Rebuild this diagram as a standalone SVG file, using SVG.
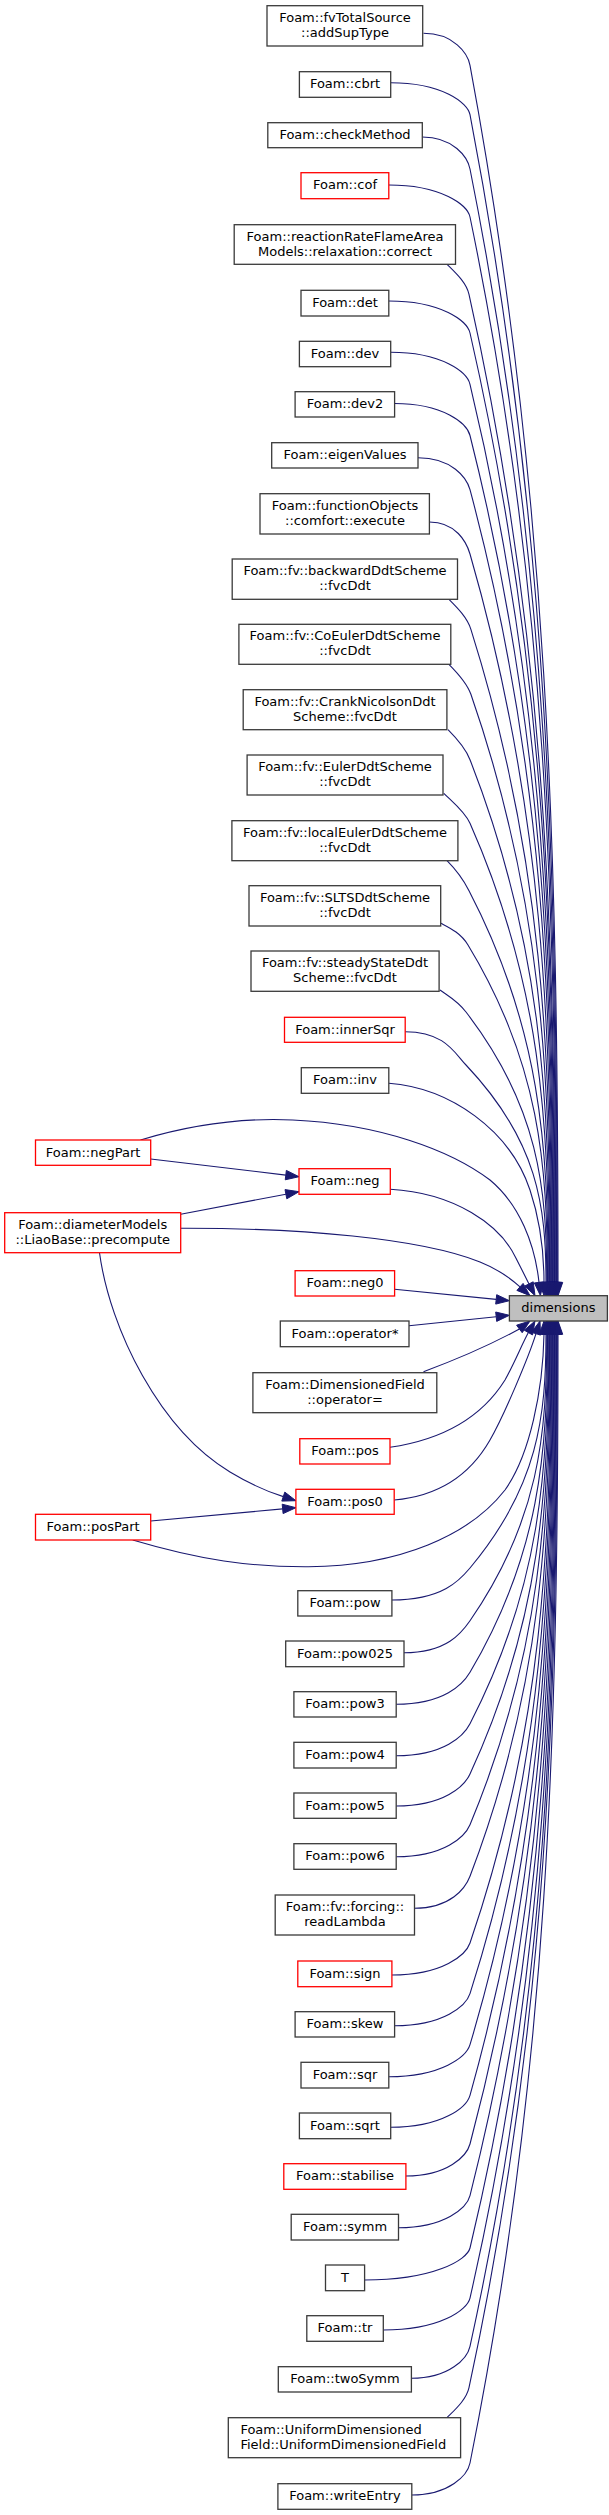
<svg xmlns="http://www.w3.org/2000/svg" width="609" height="2515" viewBox="0 0 609 2515">
<style>
.n rect{fill:#fff;stroke:#3a3a3a;stroke-width:1.3}
.r rect{stroke:#f00}
.d rect{fill:#bfbfbf}
text{font-family:"DejaVu Sans",sans-serif;font-size:13px;fill:#000;text-anchor:middle}
text.l{text-anchor:start}
#edges path{fill:none;stroke:#191970;stroke-width:1.1}
#edges polygon{fill:#191970;stroke:#191970;stroke-width:1}
</style>
<rect width="609" height="2515" fill="#fff"/>
<g id="edges">
<path d="M423.5,33.3 C453.7,33.3 467.8,53.3 470,65.3 C549.2,491.3 558,856.4 558,1282.4"/><polygon points="553.3,1282.4 558,1295.7 562.7,1282.4"/>
<path d="M390.7,82.7 C442.2,82.7 467.7,102.7 470,114.7 C548.6,523.4 557.3,873.7 557.3,1282.4"/><polygon points="552.6,1282.4 557.3,1295.7 562,1282.4"/>
<path d="M422.3,137 C453.3,137 467.6,157 470,169 C547.9,558.7 556.6,892.7 556.6,1282.4"/><polygon points="551.9,1282.4 556.6,1295.7 561.3,1282.4"/>
<path d="M388.8,185 C441.6,185 467.5,205 470,217 C547.3,589.9 555.9,909.5 555.9,1282.4"/><polygon points="551.2,1282.4 555.9,1295.7 560.6,1282.4"/>
<path d="M447,264.3 C455,272.3 466.3,282.3 469,294.3 C546.6,640.1 555.2,936.6 555.2,1282.4"/><polygon points="550.5,1282.4 555.2,1295.7 559.9,1282.4"/>
<path d="M388.8,301 C441.6,301 467.3,321 470,333 C546.1,665.3 554.5,950.1 554.5,1282.4"/><polygon points="549.8,1282.4 554.5,1295.7 559.2,1282.4"/>
<path d="M390.7,352.3 C442.2,352.3 467.1,372.3 470,384.3 C545.4,698.6 553.8,968.1 553.8,1282.4"/><polygon points="549.1,1282.4 553.8,1295.7 558.5,1282.4"/>
<path d="M394.6,403.5 C443.6,403.5 467,423.5 470,435.5 C544.8,731.9 553.1,986 553.1,1282.4"/><polygon points="548.4,1282.4 553.1,1295.7 557.8,1282.4"/>
<path d="M418,457.7 C451.8,457.7 466.8,477.7 470,489.7 C544.2,767.1 552.4,1005 552.4,1282.4"/><polygon points="547.7,1282.4 552.4,1295.7 557.1,1282.4"/>
<path d="M429.4,522 C455.8,522 466.5,542 470,554 C543.5,808.9 551.7,1027.5 551.7,1282.4"/><polygon points="547,1282.4 551.7,1295.7 556.4,1282.4"/>
<path d="M448.9,599.3 C456.9,607.3 467.1,617.3 470.9,629.3 C543,857.9 551,1053.8 551,1282.4"/><polygon points="546.3,1282.4 551,1295.7 555.7,1282.4"/>
<path d="M448.9,664.3 C456.9,672.3 466.7,682.3 470.9,694.3 C542.4,900.1 550.3,1076.6 550.3,1282.4"/><polygon points="545.6,1282.4 550.3,1295.7 555,1282.4"/>
<path d="M448,729.7 C456,737.7 465.3,747.7 470,759.7 C541.6,942.6 549.6,1099.5 549.6,1282.4"/><polygon points="544.9,1282.4 549.6,1295.7 554.3,1282.4"/>
<path d="M443.8,793.3 C451.8,801.3 464.7,811.3 470,823.3 C541,984 548.9,1121.7 548.9,1282.4"/><polygon points="544.2,1282.4 548.9,1295.7 553.6,1282.4"/>
<path d="M447,860.7 C455,868.7 462.8,878.7 469,890.7 C540.3,1027.8 548.2,1145.3 548.2,1282.4"/><polygon points="543.5,1282.4 548.2,1295.7 552.9,1282.4"/>
<path d="M441,923.3 C450,928 460.7,933 468,945 C539.6,1063.1 547.5,1164.3 547.5,1282.4"/><polygon points="542.8,1282.4 547.5,1295.7 552.2,1282.4"/>
<path d="M440,990 C448,996 456.8,1000 466,1012 C538.7,1106.6 546.8,1187.8 546.8,1282.4"/><polygon points="542.1,1282.4 546.8,1295.7 551.5,1282.4"/>
<path d="M405.2,1031.7 C444.7,1031.7 454.6,1053 466,1065 C538,1141.1 546,1206.3 546,1282.4"/><polygon points="541.3,1282.4 546,1295.7 550.7,1282.4"/>
<path d="M388.8,1083.3 C450,1088 510,1130 530,1190 C540,1220 544,1250 544,1282.4"/><polygon points="539.3,1282.4 544,1295.7 548.7,1282.4"/>
<path d="M140.5,1140 C200,1122 250,1118 292.7,1120 C380,1124 450,1150 490,1180 C520,1205 535,1245 539,1282.4"/><polygon points="534.3,1282.9 540.4,1295.6 543.7,1281.9"/>
<path d="M390.3,1189.3 C455,1193 500,1225 515.5,1257.2 C520,1266 525,1276 529,1283.9"/><polygon points="524.8,1286 535,1295.7 533.2,1281.8"/>
<path d="M180.7,1228.3 C300,1228 420,1238 480,1262 C495,1268 508,1276 520,1286.9"/><polygon points="516.9,1290.4 530,1295.7 523.1,1283.4"/>
<path d="M150.7,1159 L285.8,1175.1"/><polygon points="285.25,1179.8 299,1176.7 286.35,1170.4"/>
<path d="M180.7,1214.3 L285.9,1194.2"/><polygon points="286.8,1198.8 299,1191.7 285,1189.6"/>
<path d="M394.6,1289.3 L496.2,1299.4"/><polygon points="495.7,1304.1 509.4,1300.7 496.7,1294.7"/>
<path d="M409,1325.7 L496.2,1316.7"/><polygon points="496.7,1321.4 509.4,1315.3 495.7,1312"/>
<path d="M423.5,1371.7 C455,1360 490,1345 519.4,1329"/><polygon points="522.2,1332.7 530,1321 516.6,1325.2"/>
<path d="M390,1447.3 C440,1440 480,1420 505,1380 C515,1362 522,1344 528.4,1332.5"/><polygon points="532.5,1334.9 535,1321 524.3,1330.2"/>
<path d="M394.2,1500 C440,1496 470,1475 490,1440 C504,1415.5 528.5,1357.6 536,1333.7"/><polygon points="540.5,1335.1 540,1321 531.5,1332.3"/>
<path d="M132.7,1540 C200,1560 250,1567 308.4,1566.7 C400,1566 470,1535 505,1490 C530,1455 543,1390 544,1334.3"/><polygon points="539.3,1334.3 544,1321 548.7,1334.3"/>
<path d="M99.5,1252.7 C110,1330 160,1430 230,1472 C250,1484 265,1491 283.3,1496.6"/><polygon points="281.8,1501.1 295.9,1500.7 284.8,1492.1"/>
<path d="M150.7,1521 L282.65,1508.9"/><polygon points="283.1,1513.6 295.9,1507.7 282.2,1504.2"/>
<path d="M391.9,1600 C442.7,1600 460,1580 470,1568 C538.4,1486.2 546,1416.1 546,1334.3"/><polygon points="541.3,1334.3 546,1321 550.7,1334.3"/>
<path d="M404,1652.7 C446.9,1652.7 461.7,1632.7 470,1620.7 C539.1,1520.5 546.8,1434.5 546.8,1334.3"/><polygon points="542.1,1334.3 546.8,1321 551.5,1334.3"/>
<path d="M396.2,1704.3 C444.2,1704.3 462.9,1684.3 470,1672.3 C539.8,1554 547.5,1452.6 547.5,1334.3"/><polygon points="542.8,1334.3 547.5,1321 552.2,1334.3"/>
<path d="M396.2,1755.7 C444.2,1755.7 463.8,1735.7 470,1723.7 C540.4,1587.4 548.2,1470.6 548.2,1334.3"/><polygon points="543.5,1334.3 548.2,1321 552.9,1334.3"/>
<path d="M396.2,1806 C444.2,1806 464.5,1786 470,1774 C541,1620.1 548.9,1488.2 548.9,1334.3"/><polygon points="544.2,1334.3 548.9,1321 553.6,1334.3"/>
<path d="M396.2,1856.7 C444.2,1856.7 465,1836.7 470,1824.7 C541.6,1653.1 549.6,1505.9 549.6,1334.3"/><polygon points="544.9,1334.3 549.6,1321 554.3,1334.3"/>
<path d="M414.5,1908.3 C450.6,1908.3 465.4,1888.3 470,1876.3 C542.3,1686.6 550.3,1524 550.3,1334.3"/><polygon points="545.6,1334.3 550.3,1321 555,1334.3"/>
<path d="M391.9,1975 C442.7,1975 465.9,1955 470,1943 C542.9,1730 551,1547.3 551,1334.3"/><polygon points="546.3,1334.3 551,1321 555.7,1334.3"/>
<path d="M394.6,2025.7 C443.6,2025.7 466.2,2005.7 470,1993.7 C543.5,1762.9 551.7,1565.1 551.7,1334.3"/><polygon points="547,1334.3 551.7,1321 556.4,1334.3"/>
<path d="M388.8,2076.7 C441.6,2076.7 466.4,2056.7 470,2044.7 C544.2,1796.1 552.4,1582.9 552.4,1334.3"/><polygon points="547.7,1334.3 552.4,1321 557.1,1334.3"/>
<path d="M390.7,2127.3 C442.2,2127.3 466.6,2107.3 470,2095.3 C544.8,1828.9 553.1,1600.7 553.1,1334.3"/><polygon points="548.4,1334.3 553.1,1321 557.8,1334.3"/>
<path d="M405.9,2176 C447.6,2176 466.8,2156 470,2144 C545.4,1860.6 553.8,1617.7 553.8,1334.3"/><polygon points="549.1,1334.3 553.8,1321 558.5,1334.3"/>
<path d="M398.5,2227.7 C445,2227.7 467,2207.7 470,2195.7 C546.1,1894.2 554.5,1635.8 554.5,1334.3"/><polygon points="549.8,1334.3 554.5,1321 559.2,1334.3"/>
<path d="M364.6,2280 C433.1,2280 467.1,2260 470,2248 C546.7,1928.2 555.2,1654.1 555.2,1334.3"/><polygon points="550.5,1334.3 555.2,1321 559.9,1334.3"/>
<path d="M383.3,2330 C439.7,2330 467.2,2310 470,2298 C547.3,1960.7 555.9,1671.6 555.9,1334.3"/><polygon points="551.2,1334.3 555.9,1321 560.6,1334.3"/>
<path d="M411.4,2378.3 C449.5,2378.3 467.4,2358.3 470,2346.3 C547.9,1992.1 556.6,1688.5 556.6,1334.3"/><polygon points="551.9,1334.3 556.6,1321 561.3,1334.3"/>
<path d="M447,2417.7 C455,2409.7 466.4,2399.7 469,2387.7 C548.5,2019 557.3,1703 557.3,1334.3"/><polygon points="552.6,1334.3 557.3,1321 562,1334.3"/>
<path d="M411.8,2495 C449.6,2495 467.6,2475 470,2463 C549.2,2068 558,1729.3 558,1334.3"/><polygon points="553.3,1334.3 558,1321 562.7,1334.3"/>
</g>
<g id="n_addSupType" class="n"><rect x="267" y="5.7" width="155.7" height="40.3"/><text x="345" y="21.7">Foam::fvTotalSource</text><text x="345" y="36.7">::addSupType</text></g>
<g id="n_cbrt" class="n"><rect x="299.4" y="71.7" width="91.3" height="25.6"/><text x="345" y="88.2">Foam::cbrt</text></g>
<g id="n_checkMethod" class="n"><rect x="267.8" y="122.7" width="154.5" height="25"/><text x="345" y="139.2">Foam::checkMethod</text></g>
<g id="n_cof" class="n r"><rect x="301" y="172.7" width="87.8" height="26"/><text x="345" y="189.2">Foam::cof</text></g>
<g id="n_correct" class="n"><rect x="234.2" y="224.7" width="221.3" height="39.6"/><text x="345" y="240.7">Foam::reactionRateFlameArea</text><text x="345" y="255.7">Models::relaxation::correct</text></g>
<g id="n_det" class="n"><rect x="301" y="290.3" width="87.8" height="25.7"/><text x="345" y="306.8">Foam::det</text></g>
<g id="n_dev" class="n"><rect x="299.4" y="341.3" width="91.3" height="25.4"/><text x="345" y="357.8">Foam::dev</text></g>
<g id="n_dev2" class="n"><rect x="295.1" y="391.7" width="99.5" height="25.3"/><text x="345" y="408.2">Foam::dev2</text></g>
<g id="n_eigenValues" class="n"><rect x="271.7" y="442.7" width="146.3" height="25.3"/><text x="345" y="459.2">Foam::eigenValues</text></g>
<g id="n_execute" class="n"><rect x="260" y="493.7" width="169.4" height="40.3"/><text x="345" y="509.7">Foam::functionObjects</text><text x="345" y="524.7">::comfort::execute</text></g>
<g id="n_backward" class="n"><rect x="232.2" y="559" width="225.3" height="40.3"/><text x="345" y="575">Foam::fv::backwardDdtScheme</text><text x="345" y="590">::fvcDdt</text></g>
<g id="n_coEuler" class="n"><rect x="238.9" y="624.3" width="211.9" height="40"/><text x="345" y="640.3">Foam::fv::CoEulerDdtScheme</text><text x="345" y="655.3">::fvcDdt</text></g>
<g id="n_crank" class="n"><rect x="243.2" y="689.7" width="203.7" height="40"/><text x="345" y="705.7">Foam::fv::CrankNicolsonDdt</text><text x="345" y="720.7">Scheme::fvcDdt</text></g>
<g id="n_euler" class="n"><rect x="247.1" y="755" width="195.9" height="40"/><text x="345" y="771">Foam::fv::EulerDdtScheme</text><text x="345" y="786">::fvcDdt</text></g>
<g id="n_localEuler" class="n"><rect x="231.9" y="820.7" width="226" height="40"/><text x="345" y="836.7">Foam::fv::localEulerDdtScheme</text><text x="345" y="851.7">::fvcDdt</text></g>
<g id="n_slts" class="n"><rect x="249" y="885.7" width="191.7" height="40.3"/><text x="345" y="901.7">Foam::fv::SLTSDdtScheme</text><text x="345" y="916.7">::fvcDdt</text></g>
<g id="n_steady" class="n"><rect x="251" y="951" width="188.1" height="40.3"/><text x="345" y="967">Foam::fv::steadyStateDdt</text><text x="345" y="982">Scheme::fvcDdt</text></g>
<g id="n_innerSqr" class="n r"><rect x="284.5" y="1017.3" width="120.7" height="25"/><text x="345" y="1033.8">Foam::innerSqr</text></g>
<g id="n_inv" class="n"><rect x="301.3" y="1067.7" width="87.5" height="25.6"/><text x="345" y="1084.2">Foam::inv</text></g>
<g id="n_negPart" class="n r"><rect x="35.5" y="1140" width="115.2" height="25.3"/><text x="93.1" y="1156.5">Foam::negPart</text></g>
<g id="n_neg" class="n r"><rect x="299" y="1168.7" width="91.3" height="25.6"/><text x="345" y="1185.2">Foam::neg</text></g>
<g id="n_liao" class="n r"><rect x="4.7" y="1212.7" width="176" height="40"/><text x="92.7" y="1228.7">Foam::diameterModels</text><text x="92.7" y="1243.7">::LiaoBase::precompute</text></g>
<g id="n_neg0" class="n r"><rect x="295.1" y="1270.7" width="99.5" height="25.3"/><text x="345" y="1287.2">Foam::neg0</text></g>
<g id="n_dimensions" class="n d"><rect x="509.4" y="1295.7" width="98" height="25.3"/><text x="558.4" y="1312.2">dimensions</text></g>
<g id="n_opMul" class="n"><rect x="280.3" y="1321" width="128.7" height="25.7"/><text x="345" y="1337.5">Foam::operator*</text></g>
<g id="n_opAssign" class="n"><rect x="252.9" y="1372.7" width="183.9" height="40"/><text x="345" y="1388.7">Foam::DimensionedField</text><text x="345" y="1403.7">::operator=</text></g>
<g id="n_pos" class="n r"><rect x="299.8" y="1438.7" width="90.2" height="25.3"/><text x="345" y="1455.2">Foam::pos</text></g>
<g id="n_pos0" class="n r"><rect x="295.9" y="1489.3" width="98.3" height="25"/><text x="345" y="1505.8">Foam::pos0</text></g>
<g id="n_posPart" class="n r"><rect x="35.5" y="1514.3" width="115.2" height="25.7"/><text x="93.1" y="1530.8">Foam::posPart</text></g>
<g id="n_pow" class="n"><rect x="297.8" y="1590.7" width="94.1" height="25.3"/><text x="345" y="1607.2">Foam::pow</text></g>
<g id="n_pow025" class="n"><rect x="285.7" y="1641" width="118.3" height="25.7"/><text x="345" y="1657.5">Foam::pow025</text></g>
<g id="n_pow3" class="n"><rect x="293.9" y="1691.7" width="102.3" height="25.3"/><text x="345" y="1708.2">Foam::pow3</text></g>
<g id="n_pow4" class="n"><rect x="293.9" y="1742.3" width="102.3" height="25.7"/><text x="345" y="1758.8">Foam::pow4</text></g>
<g id="n_pow5" class="n"><rect x="293.9" y="1793" width="102.3" height="25.3"/><text x="345" y="1809.5">Foam::pow5</text></g>
<g id="n_pow6" class="n"><rect x="293.9" y="1843.7" width="102.3" height="25.6"/><text x="345" y="1860.2">Foam::pow6</text></g>
<g id="n_readLambda" class="n"><rect x="275.2" y="1895" width="139.3" height="40"/><text x="345" y="1911">Foam::fv::forcing::</text><text x="345" y="1926">readLambda</text></g>
<g id="n_sign" class="n r"><rect x="297.8" y="1961" width="94.1" height="25.7"/><text x="345" y="1977.5">Foam::sign</text></g>
<g id="n_skew" class="n"><rect x="295.1" y="2011.7" width="99.5" height="25.3"/><text x="345" y="2028.2">Foam::skew</text></g>
<g id="n_sqr" class="n"><rect x="301" y="2062.3" width="87.8" height="25.7"/><text x="345" y="2078.8">Foam::sqr</text></g>
<g id="n_sqrt" class="n"><rect x="299.4" y="2113" width="91.3" height="25.7"/><text x="345" y="2129.5">Foam::sqrt</text></g>
<g id="n_stabilise" class="n r"><rect x="283.8" y="2163.7" width="122.1" height="25.6"/><text x="345" y="2180.2">Foam::stabilise</text></g>
<g id="n_symm" class="n"><rect x="291.2" y="2214.3" width="107.3" height="25.7"/><text x="345" y="2230.8">Foam::symm</text></g>
<g id="n_T" class="n"><rect x="325.5" y="2265" width="39.1" height="25.7"/><text x="345" y="2281.5">T</text></g>
<g id="n_tr" class="n"><rect x="306.8" y="2315.7" width="76.5" height="25.6"/><text x="345" y="2332.2">Foam::tr</text></g>
<g id="n_twoSymm" class="n"><rect x="278.3" y="2366.7" width="133.1" height="25.3"/><text x="345" y="2383.2">Foam::twoSymm</text></g>
<g id="n_udf" class="n"><rect x="228.3" y="2417.7" width="232.3" height="40"/><text class="l" x="240.4" y="2433.7">Foam::UniformDimensioned</text><text class="l" x="240.4" y="2448.7">Field::UniformDimensionedField</text></g>
<g id="n_writeEntry" class="n"><rect x="277.9" y="2483.7" width="133.9" height="25.6"/><text x="345" y="2500.2">Foam::writeEntry</text></g>
</svg>
